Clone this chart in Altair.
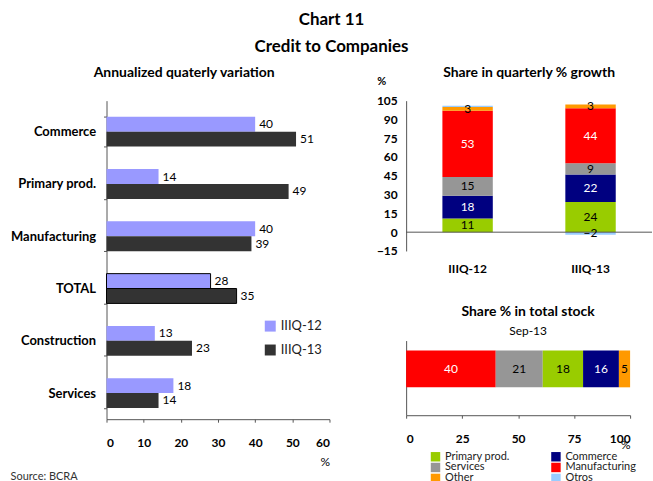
import altair as alt
import pandas as pd

FONT = "Lato"

# Annualized quarterly variation of credit by sector (%)
sectors = ["Commerce", "Primary prod.", "Manufacturing", "TOTAL", "Construction", "Services"]
periods = ["IIIQ-12", "IIIQ-13"]
var_q12 = [40, 14, 40, 28, 13, 18]
var_q13 = [51, 49, 39, 35, 23, 14]

# Share of each sector in quarterly growth (%)
growth_periods = ["IIIQ-12", "IIIQ-13"]
share_sectors = ["Primary prod.", "Commerce", "Services", "Manufacturing", "Other", "Otros"]
share_q12 = [11, 18, 15, 53, 3, 1]
share_q13 = [24, 22, 9, 44, 3, -2]

# Share of each sector in total stock (%)
stock_date = "Sep-13"
stock_sectors = ["Manufacturing", "Services", "Primary prod.", "Commerce", "Other"]
stock_share = [40, 21, 18, 16, 5]

sector_colors = ["#99CC00", "#000080", "#969696", "#FF0000", "#FF9900", "#99CCFF"]
period_colors = ["#9999FF", "#333333"]
AXIS_COLOR = "#555555"
WHITE_TEXT = "datum.sector === 'Commerce' || datum.sector === 'Manufacturing'"

# ---------- left: annualized quarterly variation ----------
var_df = pd.DataFrame({
    "sector": sectors * 2,
    "period": [periods[0]] * len(sectors) + [periods[1]] * len(sectors),
    "value": var_q12 + var_q13,
})

left_base = alt.Chart(var_df).encode(
    y=alt.Y(
        "sector:N", sort=sectors,
        scale=alt.Scale(paddingInner=0.43, paddingOuter=0.2624, align=0.59),
        axis=alt.Axis(title=None, labelFontSize=13, labelFontWeight="bold",
                      labelColor="black", labelPadding=8, tickSize=3,
                      tickBand="extent", domainColor=AXIS_COLOR, tickColor=AXIS_COLOR),
    ),
    yOffset=alt.YOffset("period:N", sort=periods),
    x=alt.X(
        "value:Q", scale=alt.Scale(domain=[0, 60], nice=False),
        axis=alt.Axis(values=[0, 10, 20, 30, 40, 50, 60], title="%", titleAnchor="end",
                      titleFontWeight="normal", titleFontSize=12, titlePadding=9,
                      labelFontSize=12, labelFontWeight="bold", labelColor="black",
                      labelPadding=15, tickSize=3, domainColor=AXIS_COLOR,
                      tickColor=AXIS_COLOR, grid=False),
    ),
)

left_bars = left_base.mark_bar(stroke="black").encode(
    color=alt.Color(
        "period:N", sort=periods,
        scale=alt.Scale(domain=periods, range=period_colors),
        legend=alt.Legend(title=None, orient="none", legendX=158, legendY=220,
                          symbolType="square", symbolSize=121, symbolStrokeWidth=0,
                          labelFontSize=13, rowPadding=10, labelColor="#222222"),
    ),
    strokeWidth=alt.condition("datum.sector === 'TOTAL'", alt.value(1), alt.value(0)),
)

left_labels = left_base.mark_text(
    align="left", baseline="middle", dx=4, font=FONT, fontSize=12, color="black"
).encode(text="value:Q")

left_chart = alt.layer(left_bars, left_labels).properties(
    width=224, height=320,
    title=alt.TitleParams("Annualized quaterly variation", fontSize=14, fontWeight="bold",
                          anchor="middle", frame="group", dx=-34, offset=15),
)

left_block = alt.vconcat(
    left_chart,
    title=alt.TitleParams("Source: BCRA", orient="bottom", anchor="start", fontSize=11,
                          fontWeight="normal", color="#333333", offset=3),
)

# ---------- top right: share in quarterly growth ----------
growth_df = pd.DataFrame({
    "period": [growth_periods[0]] * len(share_sectors) + [growth_periods[1]] * len(share_sectors),
    "sector": share_sectors * 2,
    "value": share_q12 + share_q13,
    "ord": list(range(len(share_sectors))) * 2,
})

growth_x_scale = alt.Scale(paddingInner=0.59, paddingOuter=0.295)
growth_x_axis = alt.Axis(title=None, labelAngle=0, labelFontSize=12, labelFontWeight="bold",
                         labelColor="black", labelPadding=13, ticks=False, domain=False)
growth_y_scale = alt.Scale(domain=[-15, 105], nice=False, zero=False)
growth_y_axis = alt.Axis(values=list(range(-15, 106, 15)), title="%", titleAngle=0,
                         titleX=-25, titleY=-19, titleAlign="center", titleBaseline="middle",
                         titleFontSize=11, titleFontWeight="bold", labelOverlap=False,
                         labelFontSize=12, labelFontWeight="bold", labelColor="black",
                         labelPadding=9, ticks=False, domainColor=AXIS_COLOR, grid=False)

growth_bars = alt.Chart(growth_df).mark_bar().encode(
    x=alt.X("period:N", sort=growth_periods, scale=growth_x_scale, axis=growth_x_axis),
    y=alt.Y("value:Q", stack="zero", scale=growth_y_scale, axis=growth_y_axis),
    color=alt.Color("sector:N", scale=alt.Scale(domain=share_sectors, range=sector_colors),
                    legend=None),
    order=alt.Order("ord:Q"),
)

growth_labels = alt.Chart(growth_df).transform_stack(
    stack="value", groupby=["period"], sort=[alt.SortField("ord")], as_=["v0", "v1"]
).transform_calculate(
    mid="(datum.v0 + datum.v1) / 2"
).transform_filter(
    "abs(datum.value) >= 2"
).mark_text(font=FONT, fontSize=12, baseline="middle").encode(
    x=alt.X("period:N", sort=growth_periods, scale=growth_x_scale, axis=growth_x_axis),
    y=alt.Y("mid:Q", scale=growth_y_scale, axis=growth_y_axis),
    text="value:Q",
    color=alt.condition(WHITE_TEXT, alt.value("white"), alt.value("black")),
)

zero_rule = alt.Chart(pd.DataFrame({"zero": [0]})).mark_rule(
    color=AXIS_COLOR, strokeWidth=1
).encode(y=alt.Y("zero:Q", scale=growth_y_scale, axis=growth_y_axis))

growth_chart = alt.layer(growth_bars, zero_rule, growth_labels).properties(
    width=247, height=151,
    title=alt.TitleParams("Share in quarterly % growth", fontSize=14, fontWeight="bold",
                          anchor="middle", frame="group", offset=-4),
)

# ---------- bottom right: share in total stock ----------
stock_df = pd.DataFrame({
    "date": [stock_date] * len(stock_sectors),
    "sector": stock_sectors,
    "value": stock_share,
    "ord": list(range(len(stock_sectors))),
})

stock_y_scale = alt.Scale(paddingInner=0, paddingOuter=0.5135, align=0.263)
stock_y_axis = alt.Axis(title=None, labels=False, ticks=False, domainColor=AXIS_COLOR,
                        minExtent=19)
stock_x_scale = alt.Scale(domain=[0, 100], nice=False)
stock_x_axis = alt.Axis(values=[0, 25, 50, 75, 100], title="%", titleAnchor="end",
                        titleFontWeight="normal", titleFontSize=12, titlePadding=-5,
                        labelFontSize=12, labelFontWeight="bold", labelColor="black",
                        labelPadding=15, tickSize=3, domainColor=AXIS_COLOR,
                        tickColor=AXIS_COLOR, grid=False)

stock_bars = alt.Chart(stock_df).mark_bar().encode(
    y=alt.Y("date:N", scale=stock_y_scale, axis=stock_y_axis),
    x=alt.X("value:Q", stack="zero", scale=stock_x_scale, axis=stock_x_axis),
    color=alt.Color(
        "sector:N", scale=alt.Scale(domain=share_sectors, range=sector_colors),
        legend=alt.Legend(title=None, orient="none", legendX=24, legendY=111,
                          direction="horizontal", columns=2, columnPadding=40,
                          symbolType="square", symbolSize=90, symbolStrokeWidth=0,
                          labelFontSize=11, rowPadding=-4.5, labelColor="#222222"),
    ),
    order=alt.Order("ord:Q"),
)

stock_labels = alt.Chart(stock_df).transform_stack(
    stack="value", groupby=["date"], sort=[alt.SortField("ord")], as_=["v0", "v1"]
).transform_calculate(
    mid="(datum.v0 + datum.v1) / 2"
).mark_text(font=FONT, fontSize=12, baseline="middle").encode(
    y=alt.Y("date:N", scale=stock_y_scale, axis=stock_y_axis),
    x=alt.X("mid:Q", scale=stock_x_scale, axis=stock_x_axis),
    text="value:Q",
    color=alt.condition(WHITE_TEXT, alt.value("white"), alt.value("black")),
)

stock_chart = alt.layer(stock_bars, stock_labels).properties(
    width=225, height=75,
    title=alt.TitleParams("Share % in total stock", subtitle=stock_date, fontSize=14,
                          fontWeight="bold", subtitleFontSize=12, subtitleFont=FONT,
                          subtitleColor="black", subtitlePadding=7,
                          anchor="middle", frame="group", dx=10, offset=4),
)

right_block = alt.vconcat(growth_chart, stock_chart, spacing=30).resolve_scale(
    color="independent"
)

chart = alt.hconcat(left_block, right_block, spacing=46).resolve_scale(
    color="independent"
).properties(
    title=alt.TitleParams(["Chart 11", "Credit to Companies"], fontSize=17,
                          fontWeight="bold", lineHeight=27, anchor="middle", offset=10),
    padding={"left": 10, "top": 10, "right": 0, "bottom": 0},
).configure_view(
    stroke=None
).configure_axis(
    labelFont=FONT, titleFont=FONT, grid=False
).configure_title(
    font=FONT, color="black"
).configure_legend(
    labelFont=FONT
)

chart.save("out.html", embed_options={"renderer": "svg", "actions": False})
